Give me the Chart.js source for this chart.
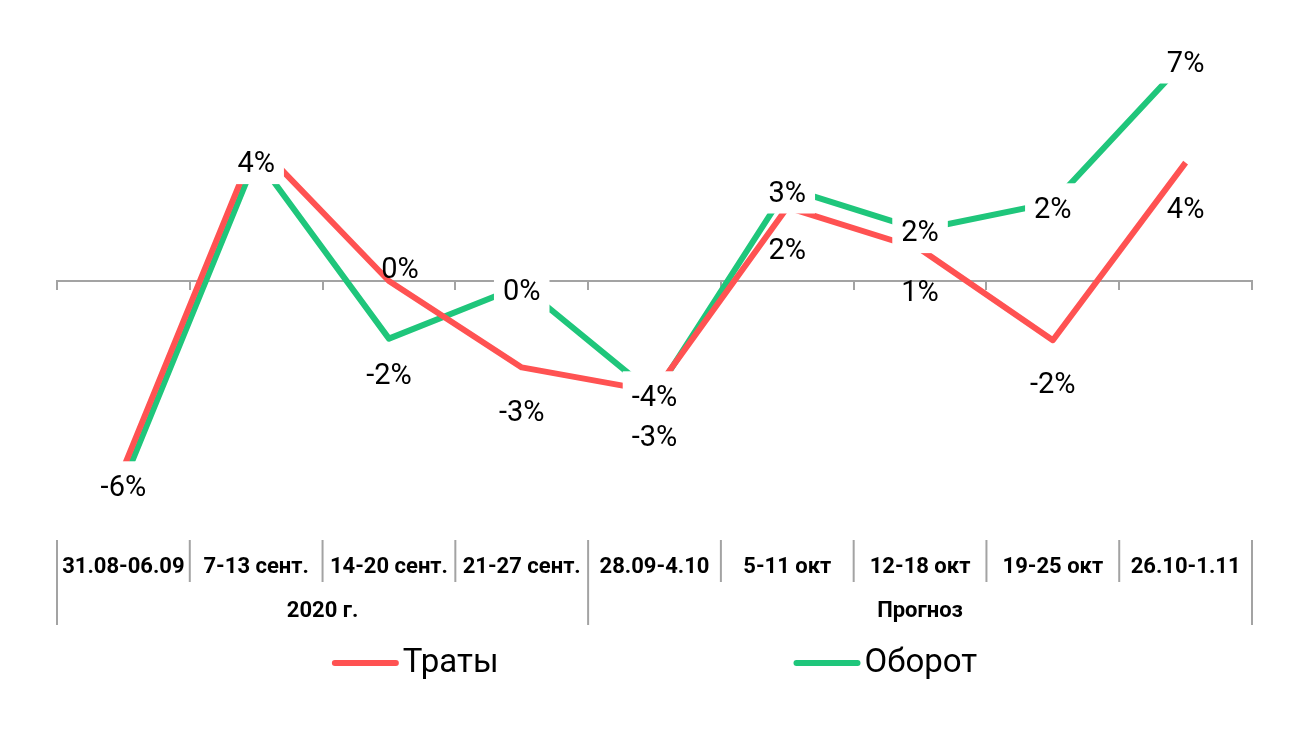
<!DOCTYPE html>
<html>
<head>
<meta charset="utf-8">
<script src="https://cdn.jsdelivr.net/npm/chart.js@4.4.1/dist/chart.umd.min.js"></script>
<style>
  body { margin: 0; background: #fff; }
  #chart { display: block; }
</style>
</head>
<body>
<canvas id="chart" width="1300" height="731"></canvas>
<script>
// weeks on the x axis
const categories = ['31.08-06.09', '7-13 сент.', '14-20 сент.', '21-27 сент.', '28.09-4.10', '5-11 окт', '12-18 окт', '19-25 окт', '26.10-1.11'];
// the weeks are grouped in two blocks under the labels
const groupLabels = ['2020 г.', 'Прогноз'];
const groupSizes = [4, 5];

// % change
const spending = [-5.85, 4.3, 0.0, -2.7, -3.45, 2.3, 1.0, -1.85, 3.7];   // Траты
const turnover = [-6.3, 3.85, -1.8, -0.15, -3.55, 2.9, 1.6, 2.45, 6.9];  // Оборот

// where each value label sits relative to its point (null = no label)
const spendingLabelOffsets = [null, null, [11, -13], [0, 43], [0, 44], [0, 41], [0, 42], [0, 42], [0, 45]];
const turnoverLabelOffsets = [[0, 3], [0, 4], [0, 35], [0, 4], [0, 1], [0, 3], [0, 1], [0, 5], [0, 1]];

const RED = '#ff5252';
const GREEN = '#1fc67b';
const GREY = '#a3a3a3';
const FONT = 'Roboto';

const valueLabels = {
    id: 'valueLabels',
    afterDatasetsDraw(chart) {
        const ctx = chart.ctx;
        const size = 29;
        const cap = size * 0.711;
        ctx.save();
        ctx.font = size + 'px ' + FONT;
        ctx.textAlign = 'center';
        ctx.textBaseline = 'alphabetic';
        chart.data.datasets.forEach((ds, di) => {
            const meta = chart.getDatasetMeta(di);
            meta.data.forEach((pt, i) => {
                const off = ds.labelOffsets[i];
                if (!off) return;
                const text = Math.round(ds.data[i]) + '%';
                const cx = pt.x + off[0];
                const base = pt.y + off[1] + cap / 2;
                if (ds.labelBox) {
                    const w = ctx.measureText(text).width;
                    ctx.fillStyle = '#fff';
                    ctx.fillRect(cx - w / 2 - 9, base - cap - 14, w + 18, cap + 26);
                }
                ctx.fillStyle = '#000';
                ctx.fillText(text, cx, base);
            });
        });
        ctx.restore();
    }
};

const categoryTable = {
    id: 'categoryTable',
    afterDraw(chart) {
        const ctx = chart.ctx;
        const xs = chart.scales.x;
        const half = (xs.getPixelForValue(1) - xs.getPixelForValue(0)) / 2;
        const edges = categories.map((c, i) => xs.getPixelForValue(i) - half);
        edges.push(xs.getPixelForValue(categories.length - 1) + half);

        const groupEdges = [0];
        groupSizes.forEach(n => groupEdges.push(groupEdges[groupEdges.length - 1] + n));

        ctx.save();
        ctx.strokeStyle = GREY;
        ctx.lineWidth = 2;
        edges.forEach((x, i) => {
            const bottom = groupEdges.includes(i) ? 625 : 582;
            ctx.beginPath();
            ctx.moveTo(x, 540);
            ctx.lineTo(x, bottom);
            ctx.stroke();
        });

        ctx.fillStyle = '#000';
        ctx.textAlign = 'center';
        ctx.textBaseline = 'middle';
        ctx.font = 'bold 22px ' + FONT;
        categories.forEach((c, i) => {
            ctx.fillText(c, xs.getPixelForValue(i), 567);
        });
        groupLabels.forEach((g, gi) => {
            const x = (edges[groupEdges[gi]] + edges[groupEdges[gi + 1]]) / 2;
            ctx.fillText(g, x, 611);
        });

        // legend
        ctx.font = '33px ' + FONT;
        ctx.textBaseline = 'middle';
        ctx.textAlign = 'left';
        const sample = 67, gap = 4, spacing = 295;
        const items = chart.data.datasets.map(ds => ({
            ds: ds,
            w: sample + gap + ctx.measureText(ds.label).width
        }));
        const total = items.reduce((s, it) => s + it.w, 0) + spacing * (items.length - 1);
        let x = (chart.chartArea.left + chart.chartArea.right) / 2 - total / 2;
        items.forEach(it => {
            ctx.strokeStyle = it.ds.borderColor;
            ctx.lineWidth = 6;
            ctx.lineCap = 'round';
            ctx.beginPath();
            ctx.moveTo(x + 3, 663);
            ctx.lineTo(x + sample - 3, 663);
            ctx.stroke();
            ctx.fillStyle = '#000';
            ctx.fillText(it.ds.label, x + sample + gap, 664);
            x += it.w + spacing;
        });
        ctx.restore();
    }
};

new Chart(document.getElementById('chart'), {
    type: 'line',
    data: {
        labels: categories,
        datasets: [{
            label: 'Траты',
            data: spending,
            borderColor: RED,
            backgroundColor: RED,
            labelOffsets: spendingLabelOffsets,
            labelBox: false
        }, {
            label: 'Оборот',
            data: turnover,
            borderColor: GREEN,
            backgroundColor: GREEN,
            labelOffsets: turnoverLabelOffsets,
            labelBox: true
        }]
    },
    options: {
        responsive: false,
        animation: false,
        layout: {
            padding: { left: 57, right: 48, top: 41, bottom: 210 }
        },
        elements: {
            line: { borderWidth: 6, tension: 0, borderJoinStyle: 'round' },
            point: { radius: 0, hoverRadius: 0 }
        },
        scales: {
            x: {
                position: { y: 0 },
                offset: true,
                grid: {
                    offset: true,
                    drawOnChartArea: false,
                    drawTicks: true,
                    tickLength: 8,
                    color: GREY,
                    lineWidth: 2
                },
                border: { display: true, color: GREY, width: 2 },
                ticks: { display: false }
            },
            y: {
                display: false,
                min: -7.5,
                max: 7.5
            }
        },
        plugins: {
            legend: { display: false },
            tooltip: { enabled: false }
        }
    },
    plugins: [valueLabels, categoryTable]
});
</script>
</body>
</html>
